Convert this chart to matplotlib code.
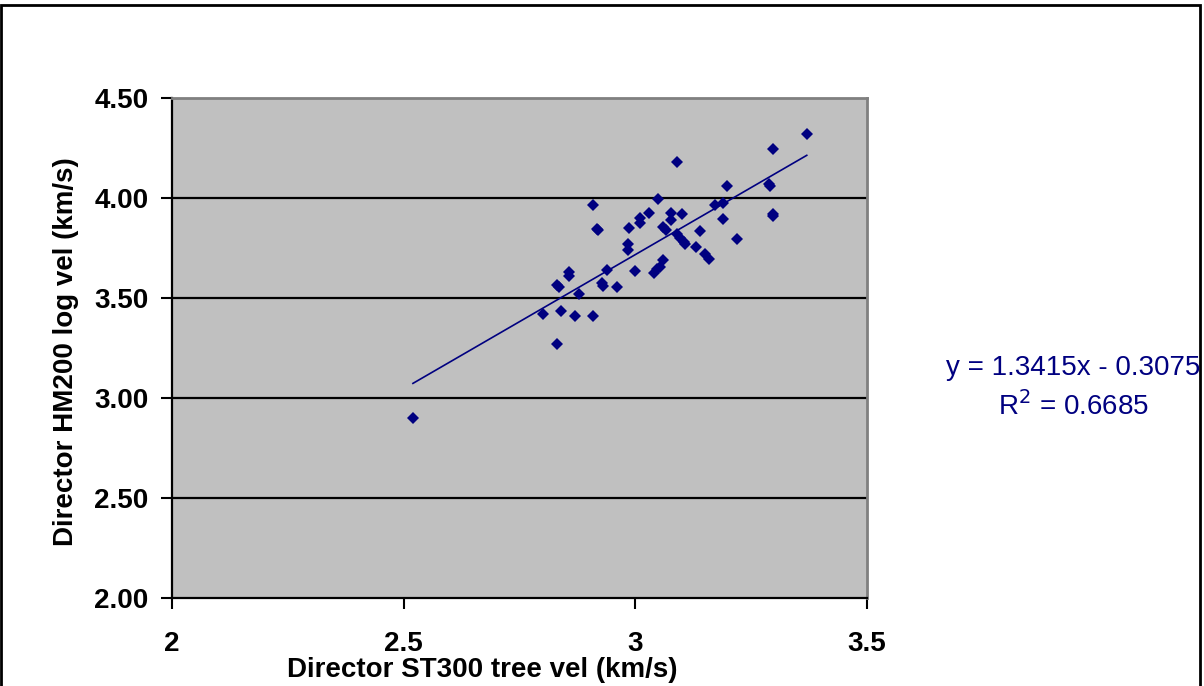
import numpy as np
import matplotlib
matplotlib.use('Agg')
import matplotlib.pyplot as plt
from matplotlib.patches import Rectangle

# Director ST300 tree velocity (km/s)
st300_vel = [2.52, 2.80, 2.83, 2.83, 2.835, 2.84, 2.857, 2.857, 2.87, 2.878,
             2.908, 2.909, 2.917, 2.92, 2.927, 2.931, 2.938, 2.961, 2.985, 2.985,
             2.987, 2.999, 3.009, 3.009, 3.029, 3.04, 3.046, 3.053, 3.05, 3.06,
             3.06, 3.067, 3.077, 3.077, 3.089, 3.096, 3.104, 3.107, 3.09, 3.10,
             3.13, 3.14, 3.151, 3.159, 3.173, 3.19, 3.19, 3.198, 3.219, 3.289,
             3.291, 3.297, 3.297, 3.297, 3.37]
# Director HM200 log velocity (km/s)
hm200_vel = [2.90, 3.42, 3.27, 3.565, 3.553, 3.435, 3.63, 3.61, 3.41, 3.52,
             3.41, 3.965, 3.845, 3.838, 3.573, 3.56, 3.64, 3.553, 3.77, 3.738,
             3.848, 3.635, 3.90, 3.876, 3.923, 3.625, 3.645, 3.655, 3.997, 3.69,
             3.853, 3.84, 3.927, 3.89, 3.82, 3.80, 3.78, 3.77, 4.18, 3.92,
             3.757, 3.835, 3.72, 3.695, 3.965, 3.977, 3.893, 4.06, 3.795, 4.072,
             4.058, 4.243, 3.92, 3.91, 4.32]

# linear trendline as reported on the chart
slope = 1.3415
intercept = -0.3075
r_squared = 0.6685

x_ticks = [2, 2.5, 3, 3.5]
y_ticks = [2.0, 2.5, 3.0, 3.5, 4.0, 4.5]

navy = '#000080'
plt.rcParams['font.family'] = ['Liberation Sans', 'DejaVu Sans']

fig = plt.figure(figsize=(12.04, 6.86), dpi=100)
ax = fig.add_axes([172/1204, 88/686, 695/1204, 500/686])
ax.set_facecolor('#C0C0C0')

for yv in y_ticks[1:-1]:
    ax.axhline(yv, color='black', lw=1.6, zorder=1)

ax.plot(st300_vel, hm200_vel, 'D', color=navy, markersize=6.5, markeredgewidth=0, zorder=3)

xs = np.array([min(st300_vel), max(st300_vel)])
ax.plot(xs, slope * xs + intercept, color=navy, lw=1.2, zorder=2)

ax.set_xlim(2, 3.5)
ax.set_ylim(2.0, 4.5)
ax.set_xticks(x_ticks)
ax.set_xticklabels([f'{v:g}' for v in x_ticks])
ax.set_yticks(y_ticks)
ax.set_yticklabels([f'{v:.2f}' for v in y_ticks])
ax.tick_params(axis='both', direction='out', length=8, width=1.5, labelsize=20)
ax.tick_params(axis='x', pad=16)
ax.tick_params(axis='y', pad=9)
for lab in ax.get_xticklabels() + ax.get_yticklabels():
    lab.set_fontweight('bold')

for s in ['left', 'bottom']:
    ax.spines[s].set_color('black')
    ax.spines[s].set_linewidth(1.6)
for s in ['top', 'right']:
    ax.spines[s].set_color('#808080')
    ax.spines[s].set_linewidth(2)

ax.set_xlabel('Director ST300 tree vel (km/s)', fontsize=20, fontweight='bold')
ax.set_ylabel('Director HM200 log vel (km/s)', fontsize=20, fontweight='bold')
ax.xaxis.set_label_coords((482 - 172) / 695, -(657 - 598) / 500, transform=ax.transAxes)
ax.xaxis.label.set_va('top')
ax.yaxis.set_label_coords(-(172 - 79) / 695, (598 - 352) / 500, transform=ax.transAxes)
ax.yaxis.label.set_va('bottom')

fig.text(1073/1204, 1 - 368/686, f'y = {slope:.4f}x - {abs(intercept):.4f}',
         color=navy, fontsize=20, ha='center', va='center')
fig.text(1073/1204, 1 - 406/686, f'R$^2$ = {r_squared:.4f}',
         color=navy, fontsize=20, ha='center', va='center')

fig.patches.append(Rectangle((0.001, -0.01), 0.9955, 1.0034, transform=fig.transFigure,
                             fill=False, edgecolor='black', lw=2))

fig.savefig('out.png', dpi=100)
